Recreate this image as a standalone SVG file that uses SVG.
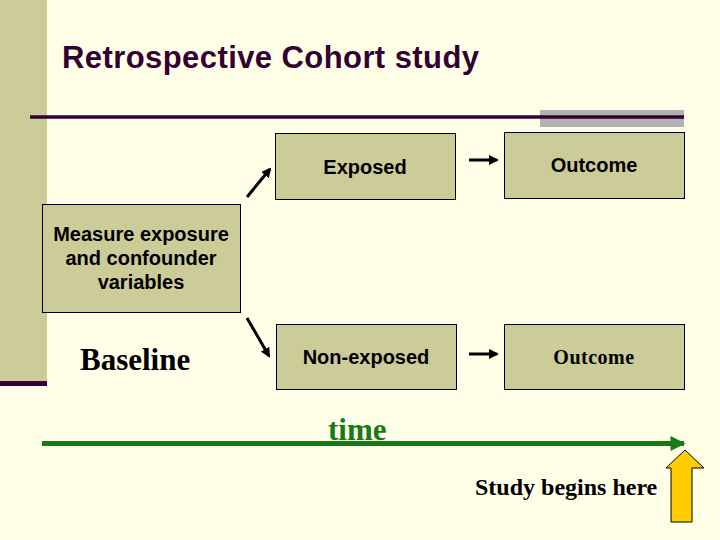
<svg xmlns="http://www.w3.org/2000/svg" width="720" height="540" viewBox="0 0 720 540">
  <style>
    .box { fill: #CCCC99; stroke: #000000; stroke-width: 1; }
    .sans { font-family: "Liberation Sans", Arial, sans-serif; font-weight: bold; font-size: 20px; fill: #000000; text-anchor: middle; }
    .serif { font-family: "Liberation Serif", "Times New Roman", serif; font-weight: bold; fill: #000000; }
    .conn { stroke: #000000; stroke-width: 3; fill: none; marker-end: url(#ah); }
  </style>
  <defs>
    <marker id="ah" viewBox="0 0 10 10" refX="8" refY="5" markerWidth="3.3" markerHeight="3.3" orient="auto" markerUnits="strokeWidth">
      <path d="M0,0 L10,5 L0,10 Z" fill="#000000"/>
    </marker>
    <marker id="gh" viewBox="0 0 10 10" refX="9" refY="5" markerWidth="3.2" markerHeight="3" orient="auto" markerUnits="strokeWidth">
      <path d="M0,0 L10,5 L0,10 Z" fill="#1A7A1A"/>
    </marker>
  </defs>

  <rect x="0" y="0" width="720" height="540" fill="#FFFFE8"/>
  <g id="decor">
    <rect x="0" y="0" width="47" height="381" fill="#CCCC99"/>
    <rect x="0" y="381" width="47" height="5" fill="#330033"/>
    <rect x="540" y="110" width="144" height="17" fill="#B2B2B2"/>
    <line x1="30" y1="117" x2="684" y2="117" stroke="#330033" stroke-width="3.5"/>
  </g>

  <text id="title" x="62" y="68" font-family="Liberation Sans, Arial, sans-serif" font-weight="bold" font-size="31" fill="#330033" textLength="417" lengthAdjust="spacing">Retrospective Cohort study</text>

  <g id="measure">
    <rect class="box" x="42.5" y="204.5" width="198" height="108"/>
    <text class="sans" x="141" y="241">Measure exposure</text>
    <text class="sans" x="141" y="265">and confounder</text>
    <text class="sans" x="141" y="289">variables</text>
  </g>

  <g id="exposed">
    <rect class="box" x="275.5" y="133.5" width="180" height="66"/>
    <text class="sans" x="365" y="174">Exposed</text>
  </g>

  <g id="nonexposed">
    <rect class="box" x="276.5" y="324.5" width="180" height="65"/>
    <text class="sans" x="366" y="364">Non-exposed</text>
  </g>

  <g id="outcome1">
    <rect class="box" x="504.5" y="132.5" width="180" height="66"/>
    <text class="sans" x="594" y="172">Outcome</text>
  </g>

  <g id="outcome2">
    <rect class="box" x="504.5" y="324.5" width="180" height="65"/>
    <text class="serif" x="594" y="364" font-size="20" text-anchor="middle" letter-spacing="0.5">Outcome</text>
  </g>

  <g id="connectors">
    <line class="conn" x1="247" y1="197" x2="270" y2="169"/>
    <line class="conn" x1="247" y1="318" x2="269" y2="356"/>
    <line class="conn" x1="469" y1="160" x2="497" y2="160"/>
    <line class="conn" x1="469" y1="354" x2="497" y2="354"/>
  </g>

  <g id="timeline">
    <line x1="42" y1="443.5" x2="684" y2="443.5" stroke="#1A7A1A" stroke-width="5" marker-end="url(#gh)"/>
    <text class="serif" x="328" y="440" font-size="31" style="fill:#1A7A1A">time</text>
  </g>

  <text id="baseline" class="serif" x="80" y="370" font-size="31">Baseline</text>

  <g id="study">
    <path d="M685,450 L704,468 L692,468 L692,522 L671,522 L671,468 L666,468 Z" fill="#FFCC00" stroke="#000000" stroke-width="1"/>
    <text class="serif" x="475" y="495" font-size="24">Study begins here</text>
  </g>
</svg>
